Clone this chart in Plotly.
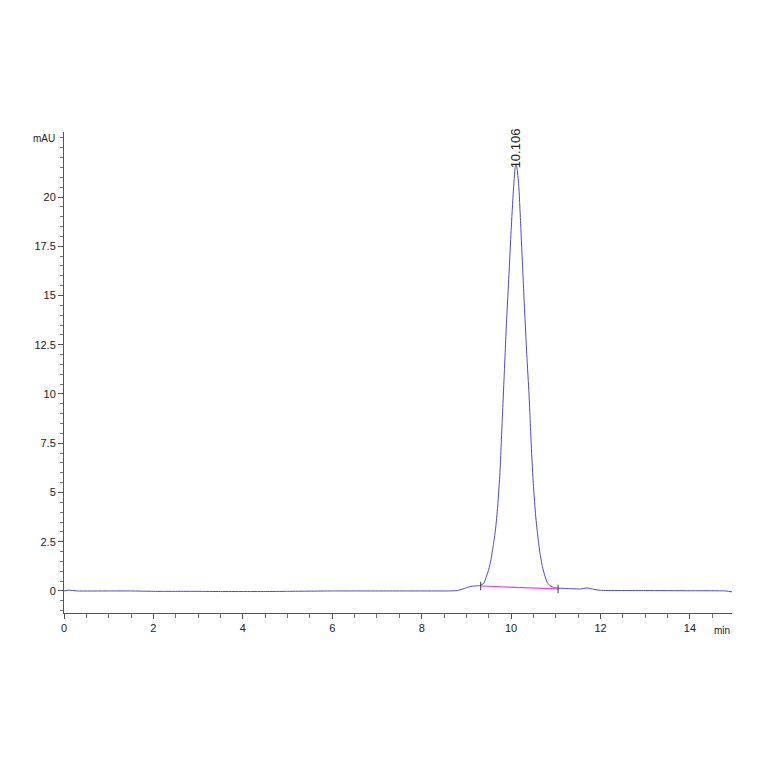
import plotly.graph_objects as go

# chromatogram (min, mAU)
time = [0, 0.1, 0.3, 1.0, 1.5, 2.0, 2.5, 3.0, 3.5, 4.0, 4.5, 5.0, 5.5, 6.0, 7.0, 8.0, 8.6,
        8.8, 8.95, 9.05, 9.15, 9.3, 9.39, 9.45, 9.50, 9.55, 9.60, 9.65, 9.70, 9.75, 9.80,
        9.85, 9.90, 9.95, 10.00, 10.05, 10.09, 10.106, 10.13, 10.17, 10.21, 10.25, 10.30,
        10.35, 10.40, 10.45, 10.50, 10.55, 10.60, 10.65, 10.70, 10.75, 10.81, 10.88, 10.95,
        11.05, 11.3, 11.55, 11.7, 11.85, 12.0, 13.0, 14.0, 14.8, 14.95]
signal = [0, 0.04, 0, 0, 0, -0.02, -0.02, -0.02, -0.03, -0.03, -0.03, -0.02, -0.01, 0, 0, 0, 0,
          0.02, 0.12, 0.2, 0.25, 0.27, 0.39, 0.75, 1.1, 1.6, 2.3, 3.1, 4.3, 6.0, 8.6,
          11.2, 13.8, 16.0, 18.3, 20.3, 21.5, 21.65, 21.5, 20.6, 18.8, 16.8, 14.3,
          12.0, 10.0, 7.4, 5.3, 3.8, 2.7, 1.85, 1.23, 0.8, 0.42, 0.25, 0.18,
          0.14, 0.12, 0.1, 0.15, 0.08, 0.03, 0.02, 0.01, 0.0, -0.05]

peak_rt = 10.106
peak_height = 21.65
base_t = [9.32, 11.05]
base_v = [0.25, 0.10]

fig = go.Figure()
fig.add_trace(go.Scatter(x=time, y=signal, mode="lines", line=dict(color="#4848dc", width=1, shape="spline", smoothing=0.5)))
fig.add_trace(go.Scatter(x=base_t, y=base_v, mode="lines", line=dict(color="#f040f0", width=1.2)))
fig.add_trace(go.Scatter(x=base_t, y=base_v, mode="markers",
                         marker=dict(symbol="line-ns", size=6, line=dict(color="#333333", width=1))))

fig.add_annotation(x=peak_rt, y=peak_height, text="10.106", textangle=-90, showarrow=False,
                   yanchor="bottom", xanchor="center", yshift=-6,
                   font=dict(size=13, color="#222222"))
fig.add_annotation(xref="paper", yref="paper", x=-0.01, y=1.0, text="mAU", showarrow=False,
                   xanchor="right", yanchor="top", yshift=1, font=dict(size=10, color="#222222"))
fig.add_annotation(xref="paper", yref="paper", x=0.985, y=0, text="min", showarrow=False,
                   xanchor="center", yanchor="top", yshift=-10, font=dict(size=10, color="#222222"))

fig.update_xaxes(range=[0, 14.94], showgrid=False, zeroline=False, showline=True, linecolor="#555555",
                 automargin=False,
                 ticks="outside", tickvals=[0, 2, 4, 6, 8, 10, 12, 14], ticklen=5, tickcolor="#555555",
                 minor=dict(dtick=0.5, ticks="outside", ticklen=4, tickcolor="#777777"))
fig.update_yaxes(range=[-1.12, 23.3], showgrid=False, zeroline=False, showline=True, linecolor="#555555",
                 automargin=False,
                 ticks="outside", tickvals=[0, 2.5, 5, 7.5, 10, 12.5, 15, 17.5, 20],
                 ticktext=["0", "2.5", "5", "7.5", "10", "12.5", "15", "17.5", "20"],
                 ticklen=5, tickcolor="#555555",
                 minor=dict(dtick=0.5, ticks="outside", ticklen=3, tickcolor="#777777"))

# the page sits 8px in from the window edge, so margins are trimmed by that
fig.update_layout(width=764, height=764, showlegend=False, plot_bgcolor="white", paper_bgcolor="white",
                  margin=dict(l=56, r=40, t=124, b=159),
                  font=dict(family="Liberation Sans Narrow, Liberation Sans, Arial", size=11, color="#222222"))

fig.write_html("out.html")
